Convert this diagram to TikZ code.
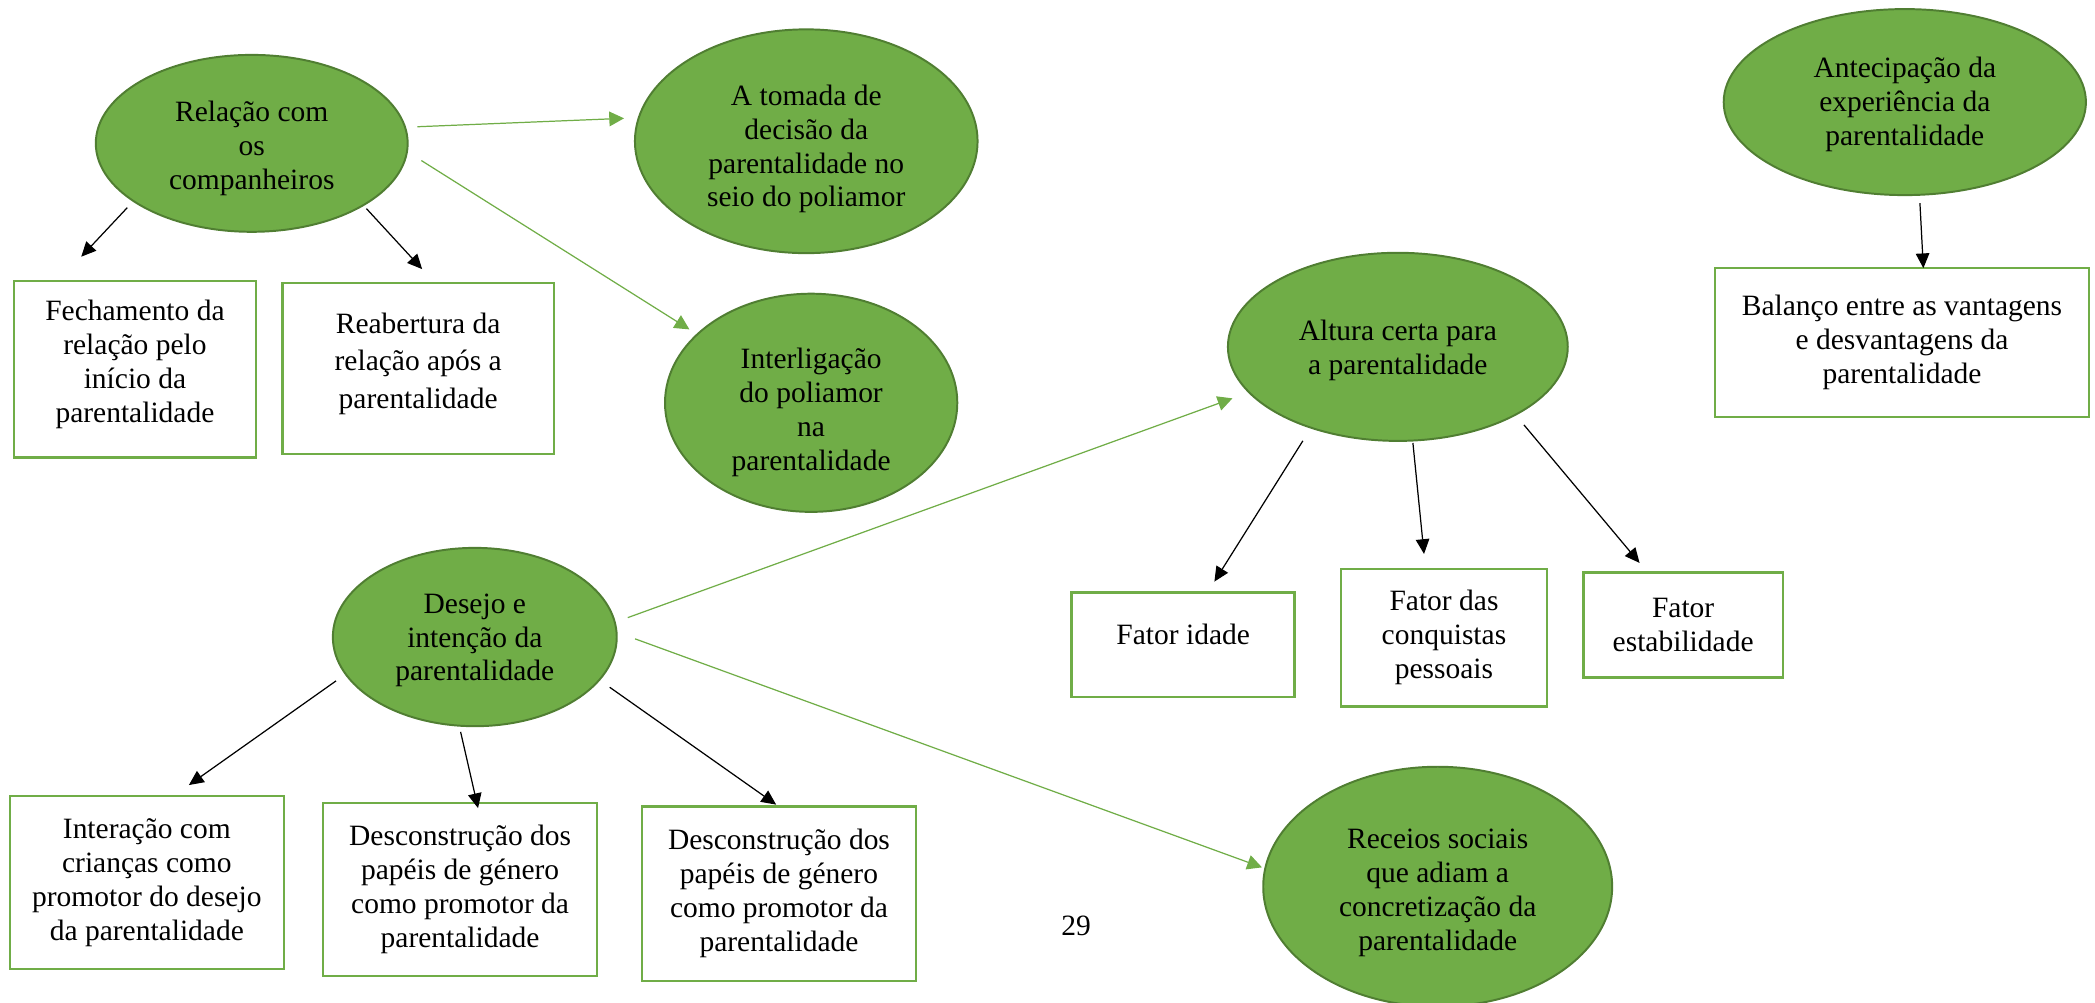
\documentclass[tikz,border=0pt]{standalone}
\usepackage{fontspec}
\setmainfont{Liberation Serif}
\usetikzlibrary{shapes.geometric,arrows.meta}
\definecolor{leaf}{HTML}{70AD47}
\definecolor{leafdark}{HTML}{507E32}
% ajustes verticais do texto
\newcommand\baixa[1]{\rule{0pt}{#1}}
\newcommand\sobe[1]{\rule[-#1]{0pt}{0pt}}
\tikzset{
  bubble/.style={ellipse, draw=leafdark, fill=leaf, line width=0.8pt, inner sep=0pt, outer sep=0pt, align=center, font=\fontsize{12pt}{13.8pt}\selectfont},
  card/.style={rectangle, draw=leaf, line width=1pt, inner sep=0pt, outer sep=0pt, align=center, font=\fontsize{12pt}{13.8pt}\selectfont},
  link/.style={draw=leaf, line width=0.5pt, -{Triangle[length=6pt,width=6pt]}},
  sub/.style={draw=black, line width=0.5pt, -{Triangle[length=6pt,width=5.5pt]}}
}
\begin{document}
\begin{tikzpicture}
  \useasboundingbox (0,0) rectangle (29.96,-14.34);
  \node[bubble, minimum width=4.46cm, minimum height=2.53cm] (rel) at (3.60,-2.05) {\baixa{12.2pt}Relação com\\os\\companheiros};
  \node[bubble, minimum width=4.90cm, minimum height=3.20cm] (tomada) at (11.53,-2.02) {\baixa{14.6pt}A tomada de\\decisão da\\parentalidade no\\seio do poliamor};
  \node[bubble, minimum width=4.18cm, minimum height=3.12cm] (inter) at (11.60,-5.76) {\baixa{16.2pt}Interligação\\do poliamor\\na\\parentalidade};
  \node[bubble, minimum width=4.86cm, minimum height=2.69cm] (altura) at (19.99,-4.96) {\baixa{11.4pt}Altura certa para\\a parentalidade};
  \node[bubble, minimum width=5.18cm, minimum height=2.66cm] (antec) at (27.24,-1.46) {\baixa{10.4pt}Antecipação da\\experiência da\\parentalidade};
  \node[bubble, minimum width=4.06cm, minimum height=2.55cm] (desejo) at (6.79,-9.11) {\baixa{10.7pt}Desejo e\\intenção da\\parentalidade};
  \node[bubble, minimum width=4.99cm, minimum height=3.43cm] (receios) at (20.56,-12.68) {\baixa{13.2pt}Receios sociais\\que adiam a\\concretização da\\parentalidade};

  \node[card, minimum width=3.46cm, minimum height=2.52cm] (fecho) at (1.93,-5.28) {Fechamento da\\relação pelo\\início da\\parentalidade\sobe{6.4pt}};
  \node[card, minimum width=3.88cm, minimum height=2.45cm, font=\fontsize{12pt}{15.2pt}\selectfont] (reab) at (5.98,-5.27) {Reabertura da\\relação após a\\parentalidade\sobe{6.6pt}};
  \node[card, minimum width=5.35cm, minimum height=2.13cm] (balanco) at (27.20,-4.90) {Balanço entre as vantagens\\e desvantagens da\\parentalidade};
  \node[card, minimum width=3.92cm, minimum height=2.47cm] (crian) at (2.10,-12.62) {Interação com\\crianças como\\promotor do desejo\\da parentalidade};
  \node[card, minimum width=3.92cm, minimum height=2.47cm] (genero1) at (6.58,-12.72) {Desconstrução dos\\papéis de género\\como promotor da\\parentalidade};
  \node[card, minimum width=3.92cm, minimum height=2.49cm] (genero2) at (11.14,-12.78) {Desconstrução dos\\papéis de género\\como promotor da\\parentalidade};
  \node[card, minimum width=3.19cm, minimum height=1.49cm] (idade) at (16.92,-9.22) {Fator idade\sobe{8.7pt}};
  \node[card, minimum width=2.95cm, minimum height=1.97cm] (conq) at (20.65,-9.12) {Fator das\\conquistas\\pessoais};
  \node[card, minimum width=2.85cm, minimum height=1.50cm] (estab) at (24.07,-8.94) {Fator\\estabilidade};

  \node[font=\fontsize{12pt}{13.8pt}\selectfont] (pagina) at (15.39,-13.24) {29};

  % ligacoes a verde
  \draw[link, shorten <=5.0pt, shorten >=6.0pt] (rel.6.8) -- (tomada.172.4);
  \draw[link, shorten <=6.9pt, shorten >=3.8pt] (rel.357.7) -- (inter.149.8);
  \draw[link, shorten <=5.6pt, shorten >=7.2pt] (desejo.6.2) -- (altura.197.2);
  \draw[link, shorten <=8.0pt, shorten >=1.4pt] (desejo.2.8) -- (receios.174.4);

  % subtemas
  \draw[sub, shorten <=3.7pt, shorten >=13.6pt] (rel.206.3) -- (fecho.131.7);
  \draw[sub, shorten <=1.9pt, shorten >=7.6pt] (rel.331.6) -- (reab.79.5);
  \draw[sub, shorten <=3.4pt] (antec.279.0) -- (balanco.74.3);
  \draw[sub, shorten <=6.3pt, shorten >=5.3pt] (altura.223.0) -- (idade.65.6);
  \draw[sub, shorten <=1.0pt, shorten >=6.1pt] (altura.279.0) -- (conq.105.9);
  \draw[sub, shorten <=5.4pt, shorten >=5.2pt] (altura.330.8) -- (estab.124.7);
  \draw[sub, shorten <=4.8pt, shorten >=7.8pt] (desejo.196.6) -- (crian.73.2);
  \draw[sub, shorten <=2.6pt, shorten >=-2.1pt] (desejo.260.8) -- (genero1.79.5);
  \draw[sub, shorten <=5.2pt, shorten >=1.4pt] (desejo.341.7) -- (genero2.90.8);
\end{tikzpicture}
\end{document}
